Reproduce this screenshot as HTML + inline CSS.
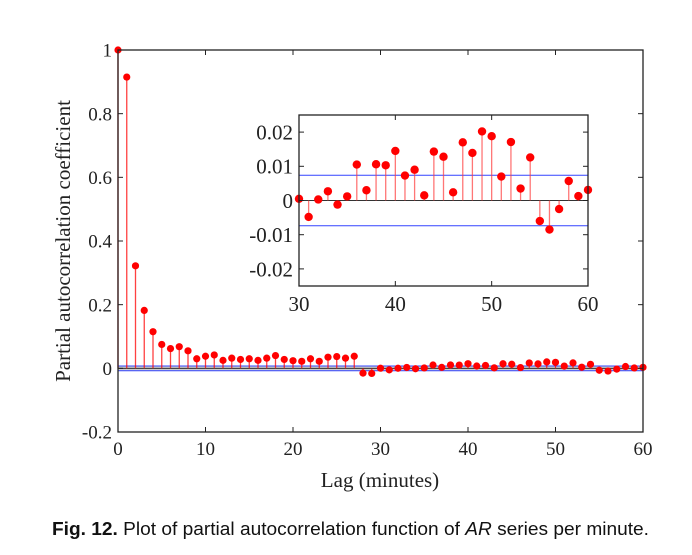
<!DOCTYPE html>
<html><head><meta charset="utf-8"><style>
body{margin:0;background:#fff;width:692px;height:555px;overflow:hidden}
svg{display:block}
.t{font-family:"Liberation Serif",serif;fill:#222}
</style></head><body>
<svg id="chart" width="692" height="555"></svg>
<script>
const lags = [];
for (let i = 0; i <= 60; i++) lags.push(i);
const pacfValues = [1,0.915,0.322,0.182,0.115,0.075,0.062,0.068,0.055,0.03,0.038,0.042,0.025,0.032,0.028,0.03,0.025,0.032,0.04,0.028,0.024,0.022,0.03,0.022,0.035,0.037,0.032,0.038,-0.015,-0.016,
0.0005,-0.0048,0.0003,0.0027,-0.0012,0.0012,0.0105,0.003,0.0106,0.0103,0.0145,0.0073,0.009,0.0015,0.0143,0.0128,0.0024,0.017,0.0139,0.0202,0.0188,0.007,0.0171,0.0035,0.0126,-0.006,-0.0085,-0.0025,0.0057,0.0013,0.0031];
const confBound = 0.0074;
const mainXTicks = [0,10,20,30,40,50,60];
const mainYTicks = [1,0.8,0.6,0.4,0.2,0,-0.2];
const mainYLabels = ["1","0.8","0.6","0.4","0.2","0","-0.2"];
const insetXTicks = [30,40,50,60];
const insetYTicks = [0.02,0.01,0,-0.01,-0.02];
const insetYLabels = ["0.02","0.01","0","-0.01","-0.02"];

const NS="http://www.w3.org/2000/svg";
const svg=document.getElementById('chart');
function el(tag,attrs,parent){const e=document.createElementNS(NS,tag);for(const k in attrs)e.setAttribute(k,attrs[k]);(parent||svg).appendChild(e);return e;}

function drawAxes(box,xd,yd,xt,yt,ylabels,fs,name,filterLag,stemColor){
  const sx=v=>box.x0+(v-xd[0])/(xd[1]-xd[0])*(box.x1-box.x0);
  const sy=v=>box.y1-(v-yd[0])/(yd[1]-yd[0])*(box.y1-box.y0);
  const g=el('g',{});  
  el('rect',{x:box.x0,y:box.y0,width:box.x1-box.x0,height:box.y1-box.y0,fill:'#fff'},g);
  const band=el('rect',{x:box.x0,y:sy(confBound),width:box.x1-box.x0,height:sy(-confBound)-sy(confBound),fill:name==='main-axes'?'#ccc':'none'},g);
   
  [confBound,-confBound].forEach(c=>{const l=el('line',{x1:box.x0,x2:box.x1,y1:sy(c),y2:sy(c),stroke:'#3344ff','stroke-width':1},g);
     });
  el('line',{x1:box.x0,x2:box.x1,y1:sy(0),y2:sy(0),stroke:'#333','stroke-width':1},g);
  lags.forEach((lag,i)=>{
    if(lag<filterLag) return;
    const v=pacfValues[i];
    const s=el('line',{x1:sx(lag),x2:sx(lag),y1:sy(0),y2:sy(v),stroke:stemColor,'stroke-width':1.3},g);
     
    const c=el('circle',{cx:sx(lag),cy:sy(v),r:name==='main-axes'?3.6:4.2,fill:'#f00'},g);
     
  });
  el('rect',{x:box.x0,y:box.y0,width:box.x1-box.x0,height:box.y1-box.y0,fill:'none',stroke:'#222','stroke-width':1.3},g);
  xt.forEach(v=>{const x=sx(v);
    el('line',{x1:x,x2:x,y1:box.y1,y2:box.y1-5,stroke:'#222'},g);
    el('line',{x1:x,x2:x,y1:box.y0,y2:box.y0+5,stroke:'#222'},g);
    const t=el('text',{x:x,y:box.y1+fs+4,'text-anchor':'middle','font-size':fs,class:'t'},g);t.textContent=v;
     });
  yt.forEach((v,i)=>{const y=sy(v);
    el('line',{x1:box.x0,x2:box.x0+5,y1:y,y2:y,stroke:'#222'},g);
    el('line',{x1:box.x1,x2:box.x1-5,y1:y,y2:y,stroke:'#222'},g);
    const t=el('text',{x:box.x0-6,y:y+fs*0.35,'text-anchor':'end','font-size':fs,class:'t'},g);t.textContent=ylabels[i];
     });
}
drawAxes({x0:118,x1:643,y0:50,y1:432},[0,60],[-0.2,1],mainXTicks,mainYTicks,mainYLabels,19,'main-axes',0,'rgba(255,0,0,0.75)');
drawAxes({x0:299,x1:588,y0:115,y1:286},[30,60],[-0.025,0.025],insetXTicks,insetYTicks,insetYLabels,21,'inset-axes',30,'rgba(255,60,60,0.7)');

let t=el('text',{x:380,y:487,'text-anchor':'middle','font-size':21,class:'t'});t.textContent='Lag (minutes)';
 
t=el('text',{x:0,y:0,'text-anchor':'middle','font-size':21,class:'t',transform:'translate(70,241) rotate(-90)'});t.textContent='Partial autocorrelation coefficient';
 
t=el('text',{x:52,y:535,'font-size':18,'font-family':'Liberation Sans Narrow, Liberation Sans, sans-serif',fill:'#111',textLength:597,lengthAdjust:'spacingAndGlyphs'});
t.innerHTML='<tspan font-weight="bold">Fig. 12.</tspan>  Plot of partial autocorrelation function of <tspan font-style="italic">AR</tspan> series per minute.';
 
</script>
</body></html>
